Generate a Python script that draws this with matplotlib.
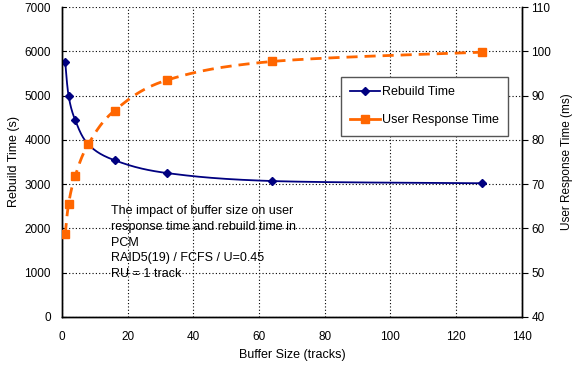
import numpy as np
import matplotlib
matplotlib.use("Agg")
import matplotlib.pyplot as plt
from matplotlib.lines import Line2D

plt.rcParams['font.family'] = ['Liberation Sans', 'DejaVu Sans']

buffer_tracks = [1, 2, 4, 8, 16, 32, 64, 128]
rebuild_time_s = [5750, 5000, 4450, 3900, 3540, 3250, 3070, 3020]
response_time_ms = [58.7, 65.5, 71.8, 79.0, 86.6, 93.5, 97.7, 99.8]

x_ticks = [0, 20, 40, 60, 80, 100, 120, 140]
left_ticks = [0, 1000, 2000, 3000, 4000, 5000, 6000, 7000]
right_ticks = [40, 50, 60, 70, 80, 90, 100, 110]

note = ("The impact of buffer size on user\n"
        "response time and rebuild time in\n"
        "PCM\n"
        "RAID5(19) / FCFS / U=0.45\n"
        "RU = 1 track")


def smooth(xs, ys, n=30):
    """Bezier smoothing through the points (spreadsheet-style smoothed line)."""
    xs = np.asarray(xs, float)
    ys = np.asarray(ys, float)
    px, py = [], []
    k = len(xs)
    for i in range(k - 1):
        x0, y0 = xs[max(i - 1, 0)], ys[max(i - 1, 0)]
        x1, y1 = xs[i], ys[i]
        x2, y2 = xs[i + 1], ys[i + 1]
        x3, y3 = xs[min(i + 2, k - 1)], ys[min(i + 2, k - 1)]
        c1x, c1y = x1 + (x2 - x0) / 6, y1 + (y2 - y0) / 6
        c2x, c2y = x2 - (x3 - x1) / 6, y2 - (y3 - y1) / 6
        t = np.linspace(0, 1, n)
        b0, b1, b2, b3 = (1 - t) ** 3, 3 * t * (1 - t) ** 2, 3 * t ** 2 * (1 - t), t ** 3
        px.extend(b0 * x1 + b1 * c1x + b2 * c2x + b3 * x2)
        py.extend(b0 * y1 + b1 * c1y + b2 * c2y + b3 * y2)
    return np.array(px), np.array(py)


fig = plt.figure(figsize=(5.74, 3.69), dpi=100)
ax = fig.add_axes([0.108, 0.141, 0.801, 0.840])
ax2 = ax.twinx()

navy = '#000080'
orange = '#FF6600'

sx, sy = smooth(buffer_tracks, rebuild_time_s)
ax.plot(sx, sy, color=navy, lw=1.3, zorder=3)
ax.plot(buffer_tracks, rebuild_time_s, ls='none', marker='D', ms=4.5,
        color=navy, zorder=4)

rx, ry = smooth(buffer_tracks, response_time_ms)
ax2.plot(rx, ry, color=orange, lw=2, dashes=(4, 2.5), zorder=3)
ax2.plot(buffer_tracks, response_time_ms, ls='none', marker='s', ms=6,
         color=orange, zorder=4)

ax.set_xlim(0, 140)
ax.set_ylim(0, 7000)
ax2.set_ylim(40, 110)
ax.set_xticks(x_ticks)
ax.set_yticks(left_ticks)
ax2.set_yticks(right_ticks)

ax.grid(True, color='black', ls=(0, (1, 2)), lw=0.8)
ax.set_axisbelow(True)

for a in (ax, ax2):
    for s in a.spines.values():
        s.set_linewidth(1.0)
    a.tick_params(labelsize=8.5, length=4, width=0.8, direction='out', pad=3)
ax.spines['top'].set_visible(False)
ax2.spines['top'].set_visible(False)
ax.tick_params(axis='x', length=0, pad=10)
ax.tick_params(axis='y', length=3, direction='in', pad=8)

ax.set_xlabel('Buffer Size (tracks)', fontsize=9, labelpad=4.5)
ax.set_ylabel('Rebuild Time (s)', fontsize=9, labelpad=3)
ax2.set_ylabel('User Response Time (ms)', fontsize=8.5, labelpad=7)

ax.text(15, 2530, note, fontsize=9, va='top', ha='left', linespacing=1.42,
        zorder=5)

handles = [Line2D([], [], color=navy, lw=1.3, marker='D', ms=4),
           Line2D([], [], color=orange, lw=2, marker='s', ms=5.5)]
leg = ax.legend(handles, ['Rebuild Time', 'User Response Time'],
                loc='upper left', bbox_to_anchor=(0.593, 0.795),
                fontsize=9, frameon=True, fancybox=False, edgecolor='#555555',
                framealpha=1, borderpad=0.75, labelspacing=1.3,
                handlelength=2.4, handletextpad=0.1)
leg.get_frame().set_linewidth(1.0)
leg.set_zorder(10)

fig.savefig('out.png', dpi=100)
